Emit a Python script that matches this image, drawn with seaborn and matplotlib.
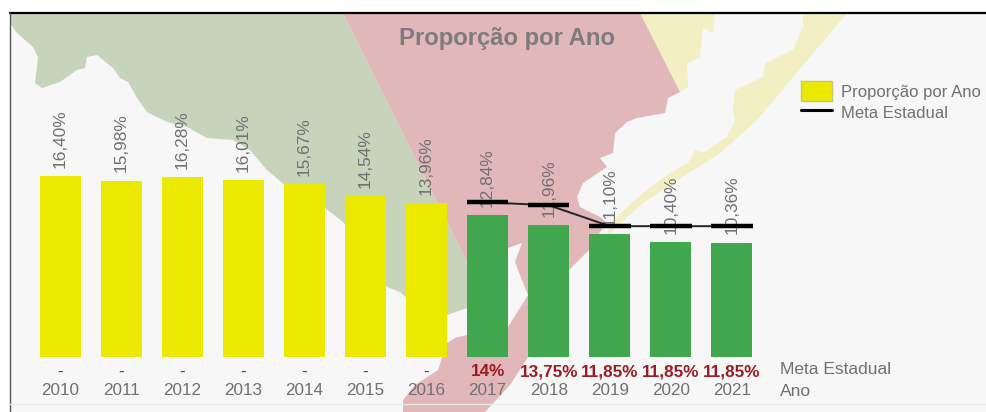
import matplotlib
matplotlib.use("Agg")
import matplotlib.pyplot as plt
import pandas as pd
import seaborn as sns
from matplotlib.lines import Line2D
from matplotlib.patches import Patch, Polygon, Rectangle

anos = ["2010", "2011", "2012", "2013", "2014", "2015", "2016", "2017", "2018", "2019", "2020", "2021"]
proporcao = [16.40, 15.98, 16.28, 16.01, 15.67, 14.54, 13.96, 12.84, 11.96, 11.10, 10.40, 10.36]
rotulos = ["16,40%", "15,98%", "16,28%", "16,01%", "15,67%", "14,54%", "13,96%", "12,84%", "11,96%", "11,10%", "10,40%", "10,36%"]
anos_meta = ["2017", "2018", "2019", "2020", "2021"]
meta = [14, 13.75, 11.85, 11.85, 11.85]
rotulos_meta = ["-", "-", "-", "-", "-", "-", "-", "14%", "13,75%", "11,85%", "11,85%", "11,85%"]
cores = ["#ebe900"] * 7 + ["#41a74f"] * 5
cor_fundo = "#f7f7f7"

# mapa de fundo, em pixels da imagem
verde = [(10, 13), (343, 13), (467, 262), (467, 308), (447, 315), (407, 298), (400, 292), (387, 287),
         (343, 222), (325, 208), (287, 187), (267, 170), (250, 150), (233, 140), (207, 138), (187, 127),
         (167, 122), (147, 112), (137, 98), (128, 82), (120, 78), (113, 68), (97, 55), (87, 57), (85, 68),
         (77, 70), (60, 82), (42, 88), (35, 83), (38, 57), (33, 47), (17, 33), (10, 23)]
rosa = [(343, 13), (640, 13), (680, 92), (668, 98), (665, 113), (637, 118), (627, 122), (615, 133),
        (613, 153), (600, 158), (607, 167), (583, 183), (577, 197), (580, 207), (600, 217), (607, 223),
        (600, 232), (589, 250), (569, 270), (528, 357), (510, 385), (485, 412), (403, 412), (403, 400),
        (415, 385), (438, 370), (447, 343), (455, 338), (467, 335), (467, 262)]
recorte = [(508, 248), (522, 243), (515, 262), (522, 280), (528, 295), (508, 327)]
amarelo_oeste = [(640, 13), (715, 13), (713, 33), (703, 28), (700, 57), (687, 63), (688, 87), (680, 92)]
amarelo_leste = [(803, 13), (847, 13), (757, 120), (720, 153), (673, 183), (643, 203), (610, 233), (607, 233),
                 (613, 220), (643, 193), (670, 173), (688, 163), (695, 150), (703, 153), (727, 137), (735, 120),
                 (733, 110), (735, 90), (763, 77), (765, 63), (793, 50), (803, 27)]

sns.set_theme(style="white")
plt.rcParams["font.family"] = ["Liberation Sans", "DejaVu Sans"]

fig = plt.figure(figsize=(9.87, 4.12), dpi=100, facecolor="white")

fundo = fig.add_axes([0, 0, 1, 1])
fundo.set_xlim(0, 987)
fundo.set_ylim(412, 0)
fundo.axis("off")
fundo.add_patch(Rectangle((10, 13), 977, 399, color=cor_fundo, lw=0))
fundo.add_patch(Polygon(verde, color="#c7d3bb", lw=0))
fundo.add_patch(Polygon(amarelo_oeste, color="#f2efc2", lw=0))
fundo.add_patch(Polygon(amarelo_leste, color="#f2efc2", lw=0))
fundo.add_patch(Polygon(rosa, color="#e2b7ba", lw=0))
fundo.add_patch(Polygon(recorte, color=cor_fundo, lw=0))
fundo.plot([10, 987], [13, 13], color="black", lw=1.6)
fundo.plot([10, 10], [13, 412], color="#555555", lw=1)
fundo.plot([10, 987], [404, 404], color="#e8e8e8", lw=1)

ax = fig.add_axes([29.5 / 987, (412 - 357) / 412, 733 / 987, 345 / 412])
ax.patch.set_alpha(0)
df = pd.DataFrame({"ano": anos, "proporcao": proporcao})
sns.barplot(data=df, x="ano", y="proporcao", hue="ano", palette=cores, legend=False,
            width=0.67, saturation=1, linewidth=0, ax=ax)
ax.set_xlim(-0.5, 11.5)
ax.set_ylim(0, 31.25)

# linha da meta
ax.plot(anos_meta, meta, color="#222222", lw=1.4, zorder=4)
ax.hlines(meta, [anos.index(a) - 0.34 for a in anos_meta], [anos.index(a) + 0.34 for a in anos_meta],
          color="black", lw=3.2, zorder=5)

for i, v in enumerate(proporcao):
    ax.annotate(rotulos[i], (i, v), xytext=(0, 6), textcoords="offset points", rotation=90,
                ha="center", va="bottom", fontsize=12.4, color="#707070", zorder=3)

ax.set_xticks(range(len(anos)))
ax.set_xticklabels(anos, fontsize=12.3, color="#707070")
ax.tick_params(axis="x", length=0, pad=19)
ax.set_yticks([])
ax.set_xlabel("")
ax.set_ylabel("")
sns.despine(ax=ax, left=True, bottom=True)

fig.canvas.draw()
for i, r in enumerate(rotulos_meta):
    fundo.text(ax.transData.transform((i, 0))[0], 372, r, ha="center", va="center",
               fontsize=12.3, fontweight="bold" if i >= 7 else "normal", color="#9a1c24")

fundo.text(780, 370, "Meta Estadual", fontsize=12.5, color="#707070", va="center")
fundo.text(780, 392, "Ano", fontsize=12.5, color="#707070", va="center")
fundo.text(507, 38, "Proporção por Ano", fontsize=17.2, fontweight="bold", color="#7c7c7c",
           ha="center", va="center")

alcas = [Patch(facecolor="#ebe900", edgecolor="#c9c76a", label="Proporção por Ano"),
         Line2D([0], [0], color="black", lw=2.2, label="Meta Estadual")]
fundo.legend(handles=alcas, loc="upper left", bbox_to_anchor=(801 / 987, 1 - 81 / 412), frameon=False,
             fontsize=12, labelcolor="#707070", handlelength=1.85, handleheight=1.5, labelspacing=0.05,
             handletextpad=0.55, borderpad=0, borderaxespad=0)

fig.savefig("out.png", dpi=100)
